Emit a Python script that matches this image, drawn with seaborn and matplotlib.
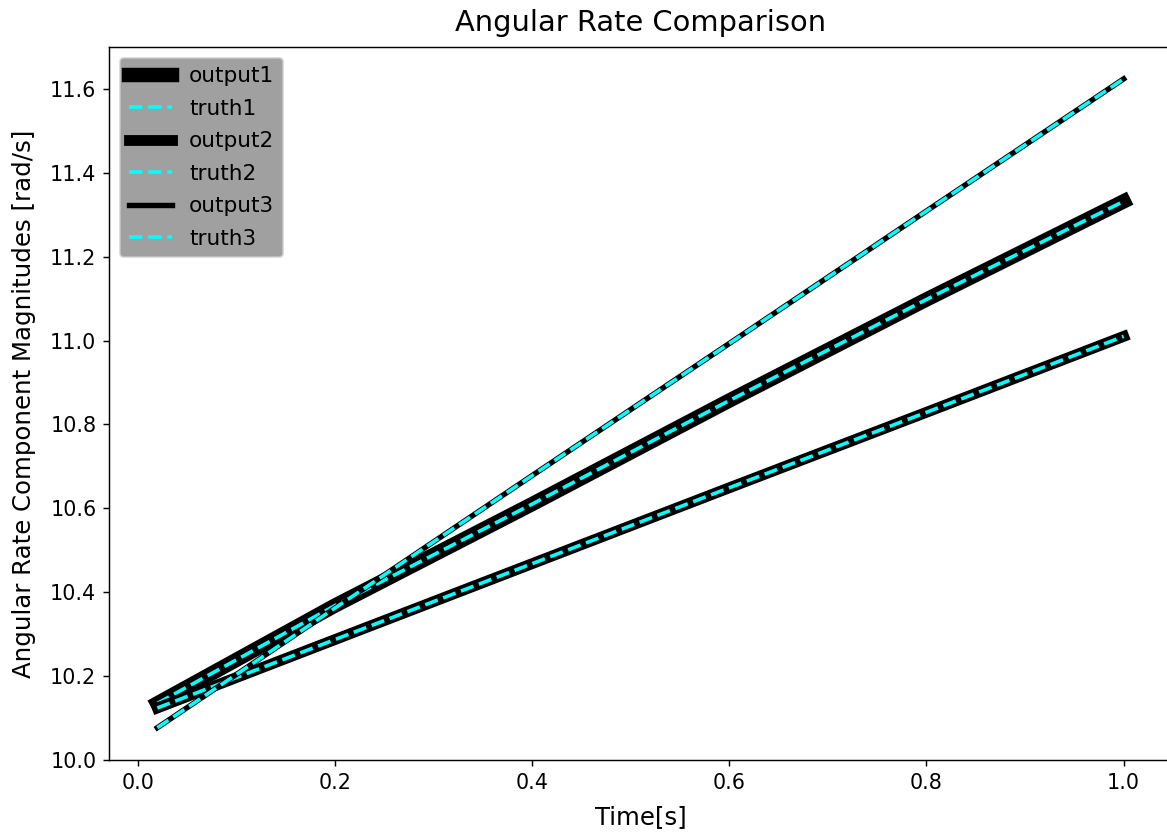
import matplotlib
matplotlib.use('Agg')
import matplotlib.pyplot as plt
import seaborn as sns

# 时间轴和三组角速度数据
time = [0.02, 0.2, 0.4, 0.6, 0.8, 1.0]
output1 = [10.135, 10.368, 10.610, 10.857, 11.098, 11.332]
truth1 = [10.135, 10.368, 10.610, 10.857, 11.098, 11.332]
output2 = [10.124, 10.287, 10.468, 10.649, 10.829, 11.010]
truth2 = [10.124, 10.287, 10.468, 10.649, 10.829, 11.010]
output3 = [10.077, 10.362, 10.678, 10.993, 11.309, 11.624]
truth3 = [10.077, 10.362, 10.678, 10.993, 11.309, 11.624]

plt.rcParams['font.family'] = ['DejaVu Sans']
plt.rcParams['xtick.labelsize'] = 11.5
plt.rcParams['ytick.labelsize'] = 11.5

fig = plt.figure(figsize=(1167 / 130, 838 / 130), dpi=130)
# 坐标轴右侧超出画布
ax = fig.add_axes([109 / 1167, 1 - 760 / 838, (1172 - 109) / 1167, (760 - 47) / 838])

sns.lineplot(x=time, y=output1, color='black', linewidth=8, label='output1', ax=ax)
sns.lineplot(x=time, y=truth1, color='cyan', linewidth=2, linestyle='--', label='truth1', ax=ax)
sns.lineplot(x=time, y=output2, color='black', linewidth=6, label='output2', ax=ax)
sns.lineplot(x=time, y=truth2, color='cyan', linewidth=2, linestyle='--', label='truth2', ax=ax)
sns.lineplot(x=time, y=output3, color='black', linewidth=3, label='output3', ax=ax)
sns.lineplot(x=time, y=truth3, color='cyan', linewidth=2, linestyle='--', label='truth3', ax=ax)

ax.set_xlim(-0.029, 1.049)
ax.set_ylim(10.0, 11.70)
ax.set_xticks([0.0, 0.2, 0.4, 0.6, 0.8, 1.0])
ax.set_yticks([10.0, 10.2, 10.4, 10.6, 10.8, 11.0, 11.2, 11.4, 11.6])

ax.set_title('Angular Rate Comparison', fontsize=16, pad=9)
ax.set_xlabel('Time[s]', fontsize=13.5, labelpad=7)
ax.set_ylabel('Angular Rate Component Magnitudes [rad/s]', fontsize=13.5, labelpad=8)
ax.legend(loc='upper left', facecolor='gray', framealpha=0.75, fontsize=12, labelspacing=0.575)

fig.savefig('out.png', dpi=130)
